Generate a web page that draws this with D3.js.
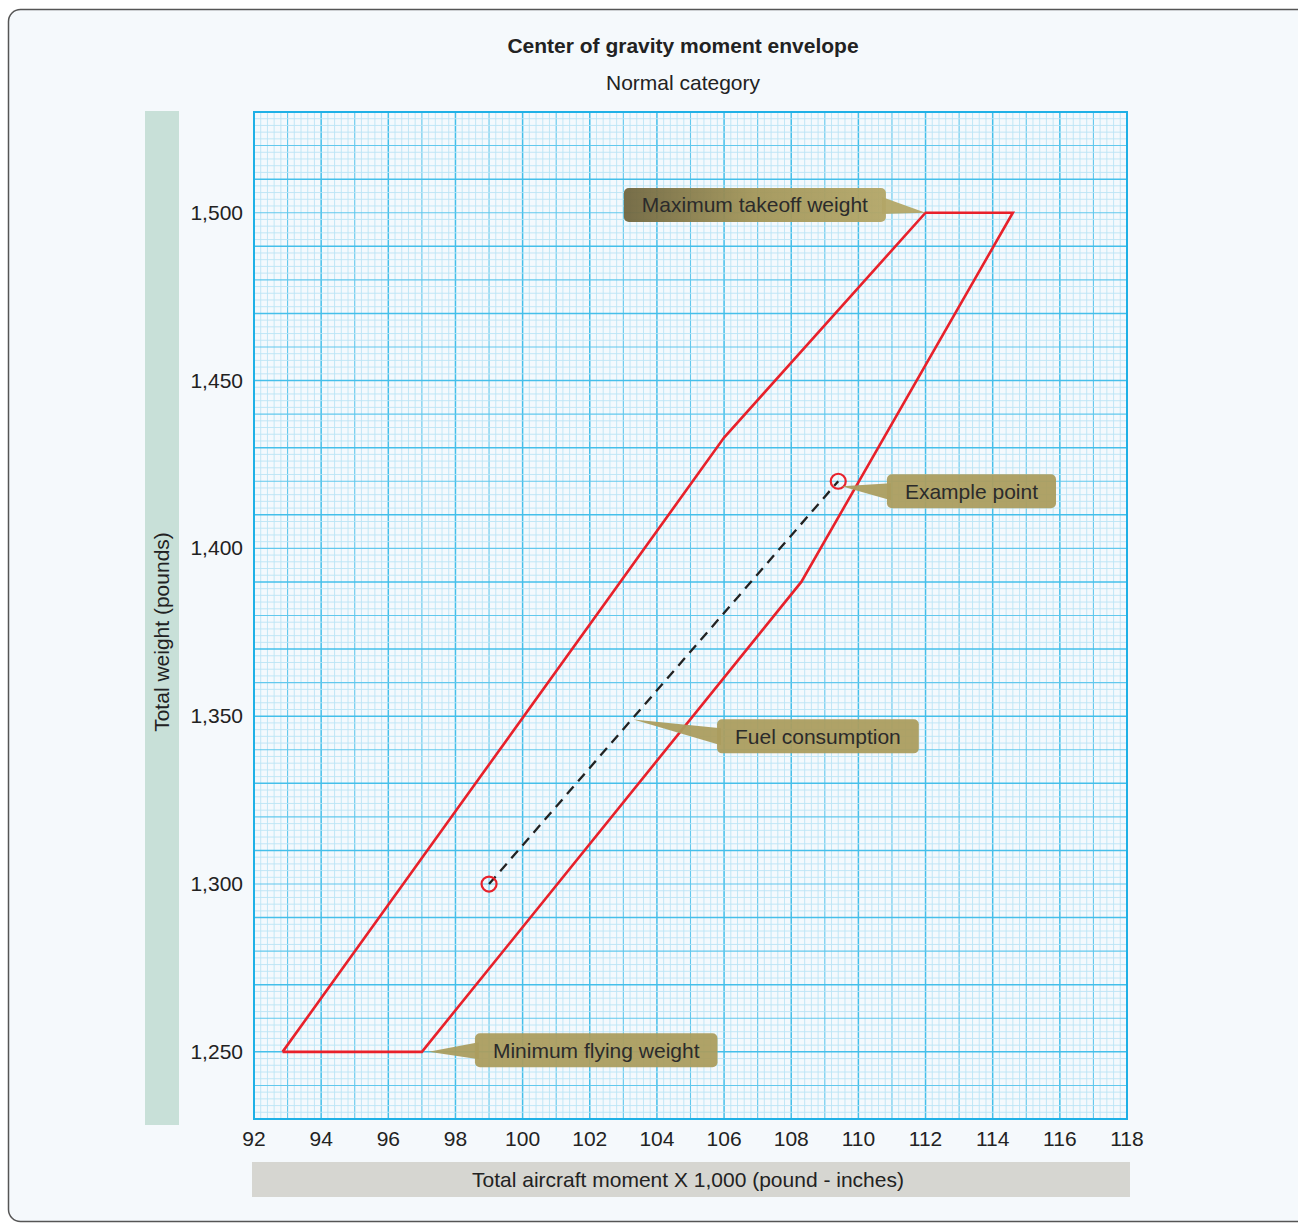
<!DOCTYPE html>
<html><head><meta charset="utf-8">
<script src="https://cdn.jsdelivr.net/npm/d3@7"></script>
<style>body{margin:0;background:#fff;font-family:"Liberation Sans",Arial,sans-serif}</style>
</head><body>
<svg id="c" width="1298" height="1229"></svg>
<script>
// ---- data ----
const envelopeMoment = [92.85, 106.0, 112.0, 114.6, 108.3, 97.0, 92.85];
const envelopeWeight = [1250, 1433, 1500, 1500, 1390, 1250, 1250];
const exampleMoment = [99.0, 109.4];
const exampleWeight = [1300, 1420];
const xTicks = [92,94,96,98,100,102,104,106,108,110,112,114,116,118];
const yTicks = [1250,1300,1350,1400,1450,1500];
const callouts = [
  {text:"Maximum takeoff weight", mx:112.0, wy:1500, side:"right", bx:110.82, by:1502.3},
  {text:"Example point", mx:109.5, wy:1418.5, side:"left", bx:110.85, by:1417},
  {text:"Fuel consumption", mx:103.3, wy:1349, side:"left", bx:105.79, by:1344},
  {text:"Minimum flying weight", mx:97.2, wy:1250, side:"left", bx:98.58, by:1250.5}
];

const svg = d3.select("#c");
const FS = 21;
const x = d3.scaleLinear().domain([92,118]).range([254,1127]);
const y = d3.scaleLinear().domain([1230,1530]).range([1119,112]);

// outer frame
svg.append("rect").attr("x",8.5).attr("y",9.5).attr("width",1310).attr("height",1212)
  .attr("rx",12).attr("fill","#f5f9fc").attr("stroke","#555").attr("stroke-width",1.5);

// titles
svg.append("text").attr("x",683).attr("y",53).attr("text-anchor","middle")
  .attr("font-size",FS).attr("font-weight","bold").attr("fill","#222").text("Center of gravity moment envelope");
svg.append("text").attr("x",683).attr("y",90).attr("text-anchor","middle")
  .attr("font-size",FS).attr("fill","#222").text("Normal category");

// axis title bands
svg.append("rect").attr("x",145).attr("y",111).attr("width",34).attr("height",1014).attr("fill","#c8e0d8");
svg.append("rect").attr("x",252).attr("y",1162).attr("width",878).attr("height",35).attr("fill","#d6d6d1");
svg.append("text").attr("transform","translate(169,632) rotate(-90)").attr("text-anchor","middle")
  .attr("font-size",FS).attr("fill","#222").text("Total weight (pounds)");
svg.append("text").attr("x",688).attr("y",1187).attr("text-anchor","middle")
  .attr("font-size",FS).attr("fill","#222").text("Total aircraft moment X 1,000 (pound - inches)");

// plot background
svg.append("rect").attr("x",x(92)).attr("y",y(1530)).attr("width",x(118)-x(92)).attr("height",y(1230)-y(1530)).attr("fill","#f4f9fd");

const g = svg.append("g");
const xMinor = d3.range(0,131).map(i=>92+i*0.2);
const yMinor = d3.range(0,151).map(i=>1230+i*2);
const col = i=>i%5===0?(i%10===0?"#45bfea":"#62c8ed"):"#bbe4f5";
const wid = i=>i%5===0?(i%10===0?1.5:1.1):0.9;
g.selectAll(".xm").data(xMinor).join("line")
  .attr("x1",d=>x(d)).attr("x2",d=>x(d)).attr("y1",y(1530)).attr("y2",y(1230))
  .attr("stroke",(d,i)=>col(i)).attr("stroke-width",(d,i)=>wid(i));
g.selectAll(".ym").data(yMinor).join("line")
  .attr("y1",d=>y(d)).attr("y2",d=>y(d)).attr("x1",x(92)).attr("x2",x(118))
  .attr("stroke",(d,i)=>col(i)).attr("stroke-width",(d,i)=>wid(i));
svg.append("rect").attr("x",x(92)).attr("y",y(1530)).attr("width",x(118)-x(92)).attr("height",y(1230)-y(1530))
  .attr("fill","none").attr("stroke","#1fb0e6").attr("stroke-width",2);

// tick labels
svg.selectAll(".xt").data(xTicks).join("text").attr("x",d=>x(d)).attr("y",1146)
  .attr("text-anchor","middle").attr("font-size",FS).attr("fill","#222").text(d=>d);
svg.selectAll(".yt").data(yTicks).join("text").attr("x",243).attr("y",d=>y(d)+7)
  .attr("text-anchor","end").attr("font-size",FS).attr("fill","#222").text(d=>d3.format(",")(d));

// envelope
const env = envelopeMoment.map((m,i)=>[m,envelopeWeight[i]]);
svg.append("path").datum(env).attr("d",d3.line().x(d=>x(d[0])).y(d=>y(d[1])))
  .attr("fill","none").attr("stroke","#e8212b").attr("stroke-width",2.6).attr("stroke-linejoin","miter");

// example line
const ex = exampleMoment.map((m,i)=>[m,exampleWeight[i]]);
svg.append("path").datum(ex).attr("d",d3.line().x(d=>x(d[0])).y(d=>y(d[1])))
  .attr("fill","none").attr("stroke","#222").attr("stroke-width",2.3).attr("stroke-dasharray","10,7");
svg.selectAll(".pt").data(ex).join("circle").attr("cx",d=>x(d[0])).attr("cy",d=>y(d[1])).attr("r",7.5)
  .attr("fill","none").attr("stroke","#e8212b").attr("stroke-width",2.2);

// callouts
const defs = svg.append("defs");
const gr = defs.append("linearGradient").attr("id","gmax").attr("x1","0").attr("x2","1");
gr.append("stop").attr("offset","0").attr("stop-color","#70663f");
gr.append("stop").attr("offset","0.5").attr("stop-color","#a39659");
gr.append("stop").attr("offset","1").attr("stop-color","#b3a667");

callouts.forEach((c,i)=>{
  const cg = svg.append("g");
  const t = cg.append("text").attr("font-size",FS).attr("fill","#2b2b2b").text(c.text);
  const tw = t.node().getComputedTextLength();
  const bw = tw+36, bh=34;
  const tx = x(c.mx), ty = y(c.wy);
  let bx0, by0 = y(c.by)-bh/2;
  if(c.side==="right"){ bx0 = x(c.bx)-bw; } else { bx0 = x(c.bx); }
  const fill = i===0?"url(#gmax)":"#ab9d5f";
  let ex0 = c.side==="right"? bx0+bw-4 : bx0+4;
  cg.insert("path","text").attr("d",`M${ex0},${by0+bh/2-8} L${tx},${ty} L${ex0},${by0+bh/2+9} Z`)
    .attr("fill",i===0?"#b3a667":"#ab9d5f").attr("opacity",0.95);
  cg.insert("rect","text").attr("x",bx0).attr("y",by0).attr("width",bw).attr("height",bh).attr("rx",5)
    .attr("fill",fill).attr("opacity",0.95);
  t.attr("x",bx0+18).attr("y",by0+bh/2+7.5);
});
</script>
</body></html>
